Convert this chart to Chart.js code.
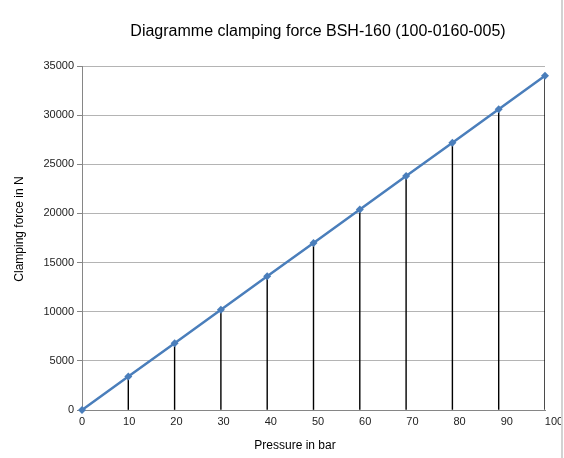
<!DOCTYPE html>
<html><head><meta charset="utf-8">
<script src="https://cdn.jsdelivr.net/npm/chart.js@4"></script>
<style>
html,body{margin:0;padding:0;background:#fff}
#wrap{position:relative;width:564px;height:458px}
#edge{position:absolute;left:561px;top:0;width:2px;height:458px;background:#d2d2d2}
</style></head><body>
<div id="wrap"><canvas id="c" width="564" height="458"></canvas><div id="edge"></div></div>
<script>
const pressure = [0, 10, 20, 30, 40, 50, 60, 70, 80, 90, 100];
const force = [0, 3400, 6800, 10200, 13600, 17000, 20400, 23800, 27200, 30600, 34000];
const xTickLabels = ['0', '10', '20', '30', '40', '50', '60', '70', '80', '90', '100'];
const chartTitle = 'Diagramme clamping force BSH-160 (100-0160-005)';
const xTitle = 'Pressure in bar';
const yTitle = 'Clamping force in N';

const FONT = '"Liberation Sans", Arial, sans-serif';
const points = pressure.map((p, i) => ({ x: p, y: force[i] }));

const textPlugin = {
  id: 'texts',
  afterDraw(chart) {
    const ctx = chart.ctx;
    const xs = chart.scales.x;
    ctx.save();
    ctx.fillStyle = '#000';
    ctx.textAlign = 'center';
    ctx.textBaseline = 'middle';
    ctx.font = '16px ' + FONT;
    ctx.fillText(chartTitle, 318, 32);
    ctx.font = '12px ' + FONT;
    ctx.fillText(xTitle, 295, 446);
    ctx.save();
    ctx.translate(20, 229);
    ctx.rotate(-Math.PI / 2);
    ctx.fillText(yTitle, 0, 0);
    ctx.restore();
    // category-style x labels (slightly wider spacing than the data, as in the source)
    ctx.fillStyle = '#222';
    ctx.font = '11px ' + FONT;
    const stretch = 472 / 463;
    pressure.forEach((p, i) => {
      const px = xs.left + (xs.getPixelForValue(p) - xs.left) * stretch;
      ctx.fillText(xTickLabels[i], px, 422);
    });
    ctx.restore();
  }
};

new Chart(document.getElementById('c'), {
  type: 'line',
  data: {
    datasets: [
      {
        type: 'line',
        data: points,
        borderColor: '#4a7ebb',
        backgroundColor: '#4a7ebb',
        borderWidth: 2.5,
        pointStyle: 'rectRot',
        pointRadius: 4,
        pointBorderWidth: 0,
        tension: 0,
        clip: false,
        order: 0
      },
      {
        type: 'bar',
        data: points,
        backgroundColor: '#000',
        borderWidth: 0,
        barThickness: 0.75,
        order: 1
      }
    ]
  },
  plugins: [textPlugin],
  options: {
    responsive: false,
    animation: false,
    devicePixelRatio: 1,
    layout: { padding: { left: 0, right: 19, top: 66, bottom: 0 } },
    plugins: { legend: { display: false }, tooltip: { enabled: false }, title: { display: false } },
    scales: {
      x: {
        type: 'linear',
        min: 0, max: 100,
        offset: false,
        ticks: { display: false, stepSize: 10 },
        grid: { display: false },
        border: { display: true, color: '#868686', width: 1 },
        afterFit(s) { s.height = 48; }
      },
      y: {
        min: 0, max: 35000,
        ticks: { stepSize: 5000, color: '#222', padding: 3, font: { size: 11, family: FONT },
                 callback: (v) => String(v) },
        grid: { color: '#b4b4b4', tickLength: 5, tickColor: '#868686' },
        border: { display: true, color: '#868686', width: 1 },
        afterFit(s) { s.width = 82; }
      }
    }
  }
});
</script>
</body></html>
